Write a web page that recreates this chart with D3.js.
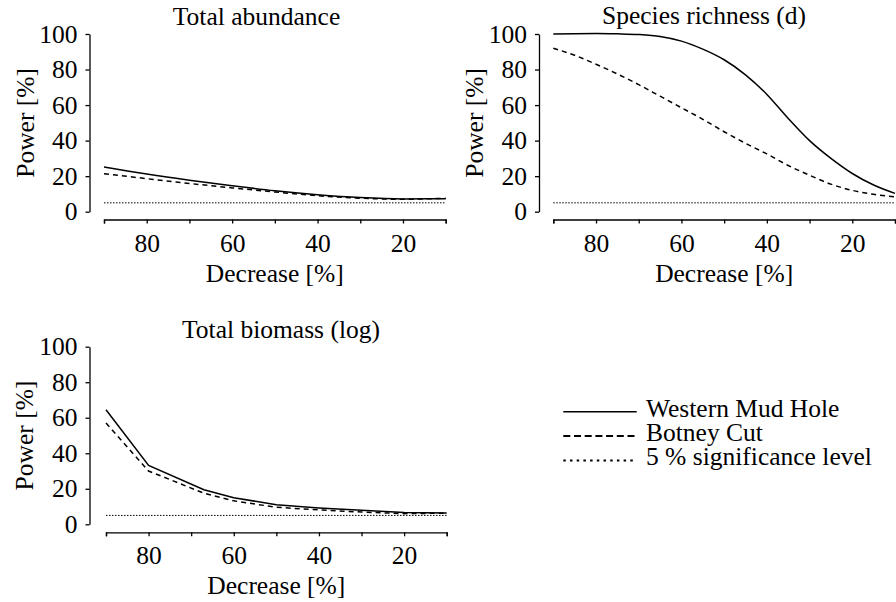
<!DOCTYPE html>
<html>
<head>
<meta charset="utf-8">
<script src="https://cdn.jsdelivr.net/npm/d3@7"></script>
</head>
<body style="margin:0">
<div id="chart"></div>
<script>
// Values (power in %, decrease in %)

const xTicks = [90, 80, 70, 60, 50, 40, 30, 20, 10];
const xTickLabels = [80, 60, 40, 20];
const yTicks = [0, 20, 40, 60, 80, 100];
const sigLevel = 5;

const abundanceX = [90, 80, 70, 60, 50, 40, 30, 20, 10];
const abundanceWMH = [25.2, 21.2, 17.7, 14.6, 11.8, 9.6, 8.0, 7.2, 7.3];
const abundanceBC = [21.4, 18.6, 15.9, 13.4, 11.1, 9.0, 7.6, 7.0, 7.6];

const richnessX = [90, 85, 80, 75, 70, 65, 60, 55, 50, 45, 40, 35, 30, 25, 20, 15, 10];
const richnessWMH = [100, 100.2, 100.3, 100.1, 99.7, 98.6, 96, 91.5, 85.5, 77, 66, 52.5, 40, 30, 21.5, 15, 10.3];
const richnessBC = [92, 88, 83, 77.5, 71.5, 65, 58.5, 52, 45, 38.5, 32.5, 26, 20.5, 15.5, 12, 9.8, 8.3];

const biomassX = [90, 80, 67, 60, 50, 40, 30, 20, 10];
const biomassWMH = [64.5, 33.2, 19.5, 15, 11, 9.2, 7.9, 6.7, 6.4];
const biomassBC = [57, 30, 17.5, 13.2, 9.6, 8.1, 6.9, 6.0, 6.3];

const seriesNames = ['Western Mud Hole', 'Botney Cut', '5 % significance level'];

// Set up the SVG canvas

let width = 896;
let height = 602;
const fontFamily = 'Liberation Serif';
const font = 25.5;

const svg = d3.select('#chart')
.append('svg')
.attr('width', width)
.attr('height', height)
.style('display', 'block')

// every text gets the serif font set on itself
function addText(parent) {
    return parent.append('text')
    .attr('font-family', fontFamily)
    .attr('font-size', font)
    .attr('fill', '#000')
}

// One entry per panel: where its axes sit on the canvas
const panels = [
    { title: 'Total abundance', x: abundanceX, wmh: abundanceWMH, bc: abundanceBC,
      yAxisX: 89.5, xRange: [104, 445.7], yRange: [211.7, 34], xAxisY: 219.5,
      titleX: 256.5, titleY: 25, yLabelX: 34 },
    { title: 'Species richness (d)', x: richnessX, wmh: richnessWMH, bc: richnessBC,
      yAxisX: 539, xRange: [553.3, 895], yRange: [211.7, 34], xAxisY: 219.5,
      titleX: 704, titleY: 24, yLabelX: 483 },
    { title: 'Total biomass (log)', x: biomassX, wmh: biomassWMH, bc: biomassBC,
      yAxisX: 89.5, xRange: [106, 446.7], yRange: [524.3, 346.7], xAxisY: 532.3,
      titleX: 281, titleY: 338, yLabelX: 33 }
];

panels.forEach((p, i) => {
    const xScale = d3.scaleLinear().domain([90, 10]).range(p.xRange)
    const yScale = d3.scaleLinear().domain([0, 100]).range(p.yRange)

    const xAxis = d3.axisBottom(xScale)
    .tickValues(xTicks)
    .tickSize(4)
    .tickSizeOuter(4)
    .tickPadding(10)
    .tickFormat(d => xTickLabels.includes(d) ? d : '')

    const yAxis = d3.axisLeft(yScale)
    .tickValues(yTicks)
    .tickSize(4)
    .tickSizeOuter(0)
    .tickPadding(8)

    const gx = svg.append('g')
    .attr('transform', 'translate(0,' + p.xAxisY + ')')
    .call(xAxis)

    const gy = svg.append('g')
    .attr('transform', 'translate(' + p.yAxisX + ',0)')
    .call(yAxis)

    ;[gx, gy].forEach(g => {
        g.selectAll('path, line').attr('stroke', '#000').attr('stroke-width', 1.3)
        g.selectAll('text')
        .attr('font-family', fontFamily)
        .attr('font-size', font)
        .attr('fill', '#000')
    })

    // titles and axis labels
    addText(svg)
    .attr('x', p.titleX)
    .attr('y', p.titleY)
    .attr('text-anchor', 'middle')
    .text(p.title)

    addText(svg)
    .attr('x', (p.xRange[0] + p.xRange[1]) / 2)
    .attr('y', p.xAxisY + 62)
    .attr('text-anchor', 'middle')
    .text('Decrease [%]')

    const yMid = (p.yRange[0] + p.yRange[1]) / 2
    addText(svg)
    .attr('transform', 'translate(' + p.yLabelX + ',' + yMid + ') rotate(-90)')
    .attr('text-anchor', 'middle')
    .text('Power [%]')

    // 5 % significance line
    svg.append('line')
    .attr('x1', xScale(90))
    .attr('x2', xScale(10))
    .attr('y1', yScale(sigLevel))
    .attr('y2', yScale(sigLevel))
    .attr('stroke', '#000')
    .attr('stroke-width', 1)
    .attr('stroke-dasharray', '1.5,1.5')

    const line = d3.line()
    .x(d => xScale(d[0]))
    .y(d => yScale(d[1]))
    .curve(i === 2 ? d3.curveLinear : d3.curveMonotoneX)

    svg.append('path')
    .datum(p.x.map((v, k) => [v, p.bc[k]]))
    .attr('d', line)
    .attr('fill', 'none')
    .attr('stroke', '#000')
    .attr('stroke-width', 1.5)
    .attr('stroke-dasharray', '5,4')

    svg.append('path')
    .datum(p.x.map((v, k) => [v, p.wmh[k]]))
    .attr('d', line)
    .attr('fill', 'none')
    .attr('stroke', '#000')
    .attr('stroke-width', 1.5)
})

// Legend
const legendDash = ['none', '7,3.7', '2.5,4.2'];
const legendWidth = [1.5, 2, 2];

const legend = svg.append('g')
.attr('transform', 'translate(563.3,411.7)')

seriesNames.forEach((name, i) => {
    legend.append('line')
    .attr('x1', 0)
    .attr('x2', 73.4)
    .attr('y1', i * 24.4)
    .attr('y2', i * 24.4)
    .attr('stroke', '#000')
    .attr('stroke-width', legendWidth[i])
    .attr('stroke-dasharray', legendDash[i])

    addText(legend)
    .attr('x', 82.7)
    .attr('y', i * 24.4 + 5)
    .text(name)
})
</script>
</body>
</html>
